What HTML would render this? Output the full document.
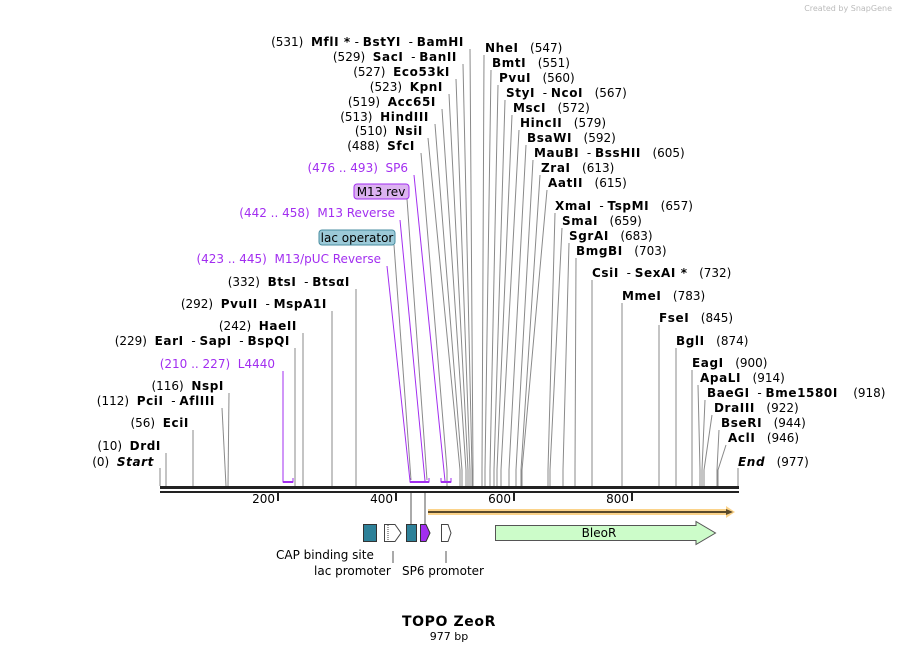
<!DOCTYPE html>
<html><head><meta charset="utf-8"><style>
body{margin:0;background:#fff}
svg{display:block;font-family:"DejaVu Sans","Liberation Sans",sans-serif;font-size:12px}
svg text{white-space:pre}
.b{font-weight:bold;letter-spacing:0.6px}
.p{fill:#a22ef0}
.ln{fill:none;stroke:#8a8a8a;stroke-width:1}
.lp{fill:none;stroke:#a22ef0;stroke-width:1}
</style></head><body>
<svg width="899" height="652" viewBox="0 0 899 652" xml:space="preserve">
<text x="892" y="11" font-size="8" fill="#bbb" text-anchor="end">Created by SnapGene</text>
<g class="ln">
<polyline points="470,49 473,470 473,486"/>
<polyline points="463,64 472,470 472,486"/>
<polyline points="456,79 470,470 470,486"/>
<polyline points="449,94 468,470 468,486"/>
<polyline points="442,109 466,470 466,486"/>
<polyline points="435,124 462,470 462,486"/>
<polyline points="428,138 460,470 460,486"/>
<polyline points="421,153 447,470 447,486"/>
<polyline points="407,199 427,480"/>
<polyline points="394,245 411,480"/>
<polyline points="356,289 356,486"/>
<polyline points="332,311 332,486"/>
<polyline points="303,333 303,486"/>
<polyline points="295,348 295,486"/>
<polyline points="229,393 228,486"/>
<polyline points="222,408 226,486"/>
<polyline points="193,430 193,486"/>
<polyline points="166,453 166,486"/>
<polyline points="160,468 160,486"/>
</g>
<g class="lp">
<polyline points="414,175 445,481"/>
<polyline points="400,220 425,481"/>
<polyline points="387,266 410,481"/>
<polyline points="283,371 283,482 293,482 293,478"/>
<polyline points="410,478 410,482 429,482 429,478"/>
<polyline points="441,478 441,482 451,482 451,478"/>
</g>
<g stroke="#a22ef0" stroke-width="2"><line x1="283" y1="482" x2="293" y2="482"/><line x1="410" y1="482" x2="429" y2="482"/><line x1="441" y1="482" x2="451" y2="482"/></g>
<g class="ln">
<polyline points="484,55 482,470 482,486"/>
<polyline points="491,70 485,470 485,486"/>
<polyline points="498,85 490,470 490,486"/>
<polyline points="505,100 494,470 494,486"/>
<polyline points="512,115 497,470 497,486"/>
<polyline points="519,130 501,470 501,486"/>
<polyline points="526,145 509,470 509,486"/>
<polyline points="533,160 516,470 516,486"/>
<polyline points="540,175 521,470 521,486"/>
<polyline points="547,190 522,470 522,486"/>
<polyline points="555,213 548,470 548,486"/>
<polyline points="562,228 550,470 550,486"/>
<polyline points="569,243 563,470 563,486"/>
<polyline points="576,258 575,470 575,486"/>
<polyline points="592,280 592,486"/>
<polyline points="622,303 622,486"/>
<polyline points="659,325 659,486"/>
<polyline points="676,348 676,486"/>
<polyline points="692,370 692,486"/>
<polyline points="698,385 700,470 700,486"/>
<polyline points="705,400 702,470 702,486"/>
<polyline points="712,415 704,470 704,486"/>
<polyline points="719,430 717,470 717,486"/>
<polyline points="726,445 718,470 718,486"/>
<polyline points="738,468 738,486"/>
</g>
<g text-anchor="end">
<text x="464" y="46">(531)  <tspan class="b">MflI *</tspan> - <tspan class="b">BstYI</tspan>  - <tspan class="b">BamHI</tspan></text>
<text x="457" y="61">(529)  <tspan class="b">SacI</tspan>  - <tspan class="b">BanII</tspan></text>
<text x="450" y="76">(527)  <tspan class="b">Eco53kI</tspan></text>
<text x="443" y="91">(523)  <tspan class="b">KpnI</tspan></text>
<text x="436" y="106">(519)  <tspan class="b">Acc65I</tspan></text>
<text x="429" y="121">(513)  <tspan class="b">HindIII</tspan></text>
<text x="423" y="135">(510)  <tspan class="b">NsiI</tspan></text>
<text x="415" y="150">(488)  <tspan class="b">SfcI</tspan></text>
<text x="408" y="172" class="p">(476 .. 493)  SP6</text>
<text x="395" y="217" class="p">(442 .. 458)  M13 Reverse</text>
<text x="381" y="263" class="p">(423 .. 445)  M13/pUC Reverse</text>
<text x="350" y="286">(332)  <tspan class="b">BtsI</tspan>  - <tspan class="b">BtsαI</tspan></text>
<text x="327" y="308">(292)  <tspan class="b">PvuII</tspan>  - <tspan class="b">MspA1I</tspan></text>
<text x="297" y="330">(242)  <tspan class="b">HaeII</tspan></text>
<text x="290" y="345">(229)  <tspan class="b">EarI</tspan>  - <tspan class="b">SapI</tspan>  - <tspan class="b">BspQI</tspan></text>
<text x="275" y="368" class="p">(210 .. 227)  L4440</text>
<text x="224" y="390">(116)  <tspan class="b">NspI</tspan></text>
<text x="215" y="405">(112)  <tspan class="b">PciI</tspan>  - <tspan class="b">AflIII</tspan></text>
<text x="189" y="427">(56)  <tspan class="b">EciI</tspan></text>
<text x="161" y="450">(10)  <tspan class="b">DrdI</tspan></text>
<text x="154" y="466">(0)  <tspan class="b" font-style="italic">Start</tspan></text>
</g>
<rect x="354" y="184" width="55" height="15" rx="3" fill="#dcb3f0" stroke="#a22ef0"/>
<text x="381" y="196" text-anchor="middle">M13 rev</text>
<rect x="319" y="230" width="76" height="15" rx="3" fill="#9ccad8" stroke="#4a8ea0"/>
<text x="357" y="242" text-anchor="middle">lac operator</text>
<g>
<text x="485" y="52"><tspan class="b">NheI</tspan>   (547)</text>
<text x="492" y="67"><tspan class="b">BmtI</tspan>   (551)</text>
<text x="499" y="82"><tspan class="b">PvuI</tspan>   (560)</text>
<text x="506" y="97"><tspan class="b">StyI</tspan>  - <tspan class="b">NcoI</tspan>   (567)</text>
<text x="513" y="112"><tspan class="b">MscI</tspan>   (572)</text>
<text x="520" y="127"><tspan class="b">HincII</tspan>   (579)</text>
<text x="527" y="142"><tspan class="b">BsaWI</tspan>   (592)</text>
<text x="534" y="157"><tspan class="b">MauBI</tspan>  - <tspan class="b">BssHII</tspan>   (605)</text>
<text x="541" y="172"><tspan class="b">ZraI</tspan>   (613)</text>
<text x="548" y="187"><tspan class="b">AatII</tspan>   (615)</text>
<text x="555" y="210"><tspan class="b">XmaI</tspan>  - <tspan class="b">TspMI</tspan>   (657)</text>
<text x="562" y="225"><tspan class="b">SmaI</tspan>   (659)</text>
<text x="569" y="240"><tspan class="b">SgrAI</tspan>   (683)</text>
<text x="576" y="255"><tspan class="b">BmgBI</tspan>   (703)</text>
<text x="592" y="277"><tspan class="b">CsiI</tspan>  - <tspan class="b">SexAI *</tspan>   (732)</text>
<text x="622" y="300"><tspan class="b">MmeI</tspan>   (783)</text>
<text x="659" y="322"><tspan class="b">FseI</tspan>   (845)</text>
<text x="676" y="345"><tspan class="b">BglI</tspan>   (874)</text>
<text x="692" y="367"><tspan class="b">EagI</tspan>   (900)</text>
<text x="700" y="382"><tspan class="b">ApaLI</tspan>   (914)</text>
<text x="707" y="397"><tspan class="b">BaeGI</tspan>  - <tspan class="b">Bme1580I</tspan>    (918)</text>
<text x="714" y="412"><tspan class="b">DraIII</tspan>   (922)</text>
<text x="721" y="427"><tspan class="b">BseRI</tspan>   (944)</text>
<text x="728" y="442"><tspan class="b">AclI</tspan>   (946)</text>
<text x="738" y="466"><tspan class="b" font-style="italic">End</tspan>   (977)</text>
</g>
<rect x="160" y="486" width="579" height="3" fill="#222"/>
<rect x="160" y="491" width="579" height="2" fill="#222"/>
<g stroke="#222" stroke-width="2"><line x1="278" y1="493" x2="278" y2="501"/><line x1="396" y1="493" x2="396" y2="501"/><line x1="514" y1="493" x2="514" y2="501"/><line x1="632" y1="493" x2="632" y2="501"/></g>
<g text-anchor="end"><text x="275" y="503">200</text><text x="393" y="503">400</text><text x="511" y="503">600</text><text x="629" y="503">800</text></g>
<rect x="428" y="509" width="300" height="6" fill="#fbd38a"/>
<polygon points="726,506 735,512 726,518" fill="#fbd38a"/>
<line x1="428" y1="512" x2="729" y2="512" stroke="#5a4a2a" stroke-width="2"/>
<polygon points="726,509 733,512 726,515" fill="#5a4a2a"/>
<g stroke="#555" stroke-width="1">
<line x1="411" y1="493" x2="411" y2="524"/><line x1="425" y1="493" x2="425" y2="524"/>
<line x1="393" y1="551" x2="393" y2="563"/><line x1="446" y1="551" x2="446" y2="563"/>
</g>
<rect x="363.5" y="524.5" width="13" height="17" fill="#2e8199" stroke="#333"/>
<polygon points="384.5,524.5 395,524.5 401,533 395,541.5 384.5,541.5" fill="#fff" stroke="#444"/>
<line x1="388" y1="525" x2="388" y2="541" stroke="#444" stroke-dasharray="1,1"/>
<rect x="406.5" y="524.5" width="10" height="17" fill="#2e8199" stroke="#333"/>
<polygon points="420.5,524.5 426,524.5 430,533 426,541.5 420.5,541.5" fill="#a22ef0" stroke="#333"/>
<polygon points="441.5,524.5 448,524.5 451,533 448,541.5 441.5,541.5" fill="#fff" stroke="#444"/>
<polygon points="495.5,525.5 696,525.5 696,521.5 715.5,533 696,544.5 696,540.5 495.5,540.5" fill="#ccfcc9" stroke="#555"/>
<text x="599" y="537" text-anchor="middle">BleoR</text>
<text x="276" y="559">CAP binding site</text>
<text x="314" y="575">lac promoter</text>
<text x="402" y="575">SP6 promoter</text>
<text x="449" y="626" text-anchor="middle" class="b" font-size="14">TOPO ZeoR</text>
<text x="449" y="640" text-anchor="middle" font-size="11">977 bp</text>
</svg>
</body></html>
